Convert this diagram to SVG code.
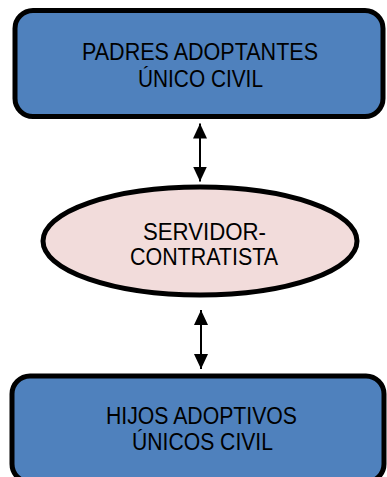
<svg xmlns="http://www.w3.org/2000/svg" width="387" height="477" viewBox="0 0 387 477">
<defs>
<style>
.box{fill:#4F81BD;stroke:#000;stroke-width:5}
.ell{fill:#F2DCDB;stroke:#000;stroke-width:5}
.lbl{font-family:"Liberation Sans",Arial,sans-serif;font-size:23px;fill:#000;text-anchor:middle}
.conn{stroke:#000;stroke-width:2;fill:none}
</style>
<marker id="ah" viewBox="0 0 10 10" refX="10" refY="5" markerWidth="15" markerHeight="14" markerUnits="userSpaceOnUse" orient="auto-start-reverse" preserveAspectRatio="none">
<path d="M0,0 L10,5 L0,10 Z" fill="#000"/>
</marker>
</defs>
<g id="padres">
<rect class="box" x="15" y="10.5" width="368" height="106" rx="18" ry="18"/>
<text class="lbl" x="200" y="60" textLength="236" lengthAdjust="spacingAndGlyphs">PADRES ADOPTANTES</text>
<text class="lbl" x="200.5" y="87" textLength="125" lengthAdjust="spacingAndGlyphs">ÚNICO CIVIL</text>
</g>
<g id="servidor">
<ellipse class="ell" cx="200" cy="241" rx="157" ry="54"/>
<text class="lbl" x="204.5" y="239.5" textLength="123" lengthAdjust="spacingAndGlyphs">SERVIDOR-</text>
<text class="lbl" x="204" y="265" textLength="148" lengthAdjust="spacingAndGlyphs">CONTRATISTA</text>
</g>
<g id="hijos">
<rect class="box" x="12" y="376" width="372" height="106" rx="18" ry="18"/>
<text class="lbl" x="201.5" y="424" textLength="191" lengthAdjust="spacingAndGlyphs">HIJOS ADOPTIVOS</text>
<text class="lbl" x="202.5" y="450" textLength="141" lengthAdjust="spacingAndGlyphs">ÚNICOS CIVIL</text>
</g>
<g id="connectors">
<line class="conn" x1="200" y1="123.5" x2="200" y2="181.5" marker-start="url(#ah)" marker-end="url(#ah)"/>
<line class="conn" x1="201" y1="310" x2="201" y2="369" marker-start="url(#ah)" marker-end="url(#ah)"/>
</g>
</svg>
